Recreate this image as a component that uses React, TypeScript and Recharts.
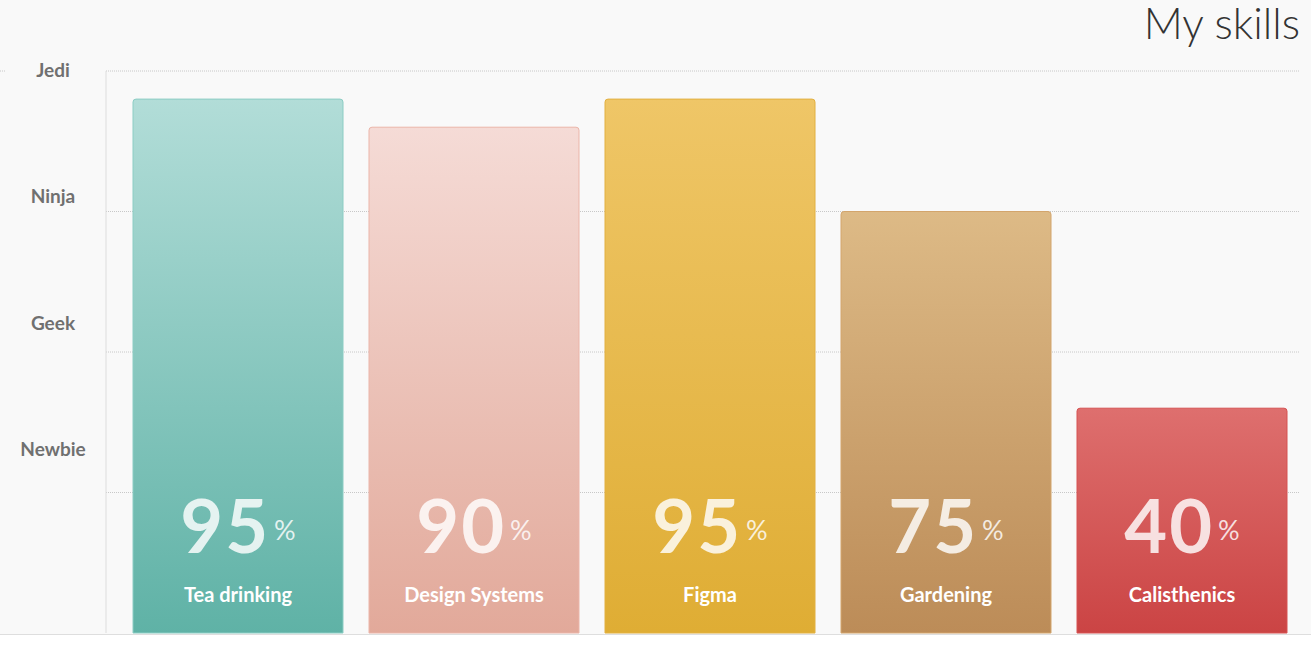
import React from 'react';
import { BarChart, Bar, XAxis, YAxis, CartesianGrid, Cell, LabelList } from 'recharts';

const skills = ['Tea drinking', 'Design Systems', 'Figma', 'Gardening', 'Calisthenics'];
const levels = [95, 90, 95, 75, 40];
const topColors = ['#b2ddd8', '#f5dbd6', '#efc667', '#ddba86', '#de6f6e'];
const bottomColors = ['#5fb2a6', '#e2a99a', '#dfad34', '#bc8c58', '#cb4444'];
const strokeColors = ['#8ccdc4', '#ebb5a9', '#e2b040', '#d3a56c', '#d65252'];
const rankTicks = [32.5, 55, 77.5, 100];
const rankLabels = ['Newbie', 'Geek', 'Ninja', 'Jedi'];
const gridValues = [25, 50, 75, 100];

const data = skills.map((name, i) => ({ name, value: levels[i] }));

const FONT = 'Lato, "Open Sans", sans-serif';

const RankTick = (props: any) => {
  const { y, payload } = props;
  const idx = rankTicks.indexOf(payload.value);
  return (
    <g>
      {payload.value === 100 && (
        <line x1={0} x2={6} y1={y} y2={y} stroke="#c8c8c8" strokeDasharray="1 1" />
      )}
      <text x={53} y={y + 6} textAnchor="middle" fontFamily={FONT} fontSize={19} fontWeight={700} fill="#707070">
        {rankLabels[idx]}
      </text>
    </g>
  );
};

const BarLabel = (props: any) => {
  const { x, y, width, height, value, index } = props;
  const cx = x + width / 2;
  const bottom = y + height;
  return (
    <g>
      <text x={cx} y={bottom - 80} textAnchor="middle" fontFamily={FONT} fill="#ffffff" fillOpacity={0.82}>
        <tspan fontSize={74} fontWeight={700} letterSpacing={2}>{value}</tspan>
        <tspan fontSize={27} fontWeight={400} dx={4} dy={-13}>%</tspan>
      </text>
      <text x={cx} y={bottom - 31} textAnchor="middle" fontFamily={FONT} fontSize={20} fontWeight={700} fill="#ffffff">
        {skills[index]}
      </text>
    </g>
  );
};

export default function App() {
  return (
    <div style={{ position: 'absolute', left: 0, top: 0, width: 1311, height: 647, background: '#ffffff', overflow: 'hidden' }}>
      <div style={{ position: 'relative', width: 1311, height: 634, background: '#f9f9f9', borderBottom: '1px solid #dedede' }}>
        <div style={{ position: 'absolute', right: 11, top: 1, fontFamily: FONT, fontSize: 43, lineHeight: '43px', fontWeight: 300, color: '#333333', zIndex: 2, whiteSpace: 'nowrap' }}>
          My skills
        </div>
        <div style={{ position: 'absolute', left: 0, top: 0 }}>
          <BarChart width={1311} height={634} data={data} margin={{ top: 71, right: 11, bottom: 1, left: 0 }} barCategoryGap={13}>
            <defs>
              {skills.map((s, i) => (
                <linearGradient key={s} id={`grad${i}`} x1="0" y1="0" x2="0" y2="1">
                  <stop offset="0%" stopColor={topColors[i]} />
                  <stop offset="100%" stopColor={bottomColors[i]} />
                </linearGradient>
              ))}
            </defs>
            <CartesianGrid vertical={false} horizontalValues={gridValues} stroke="#c8c8c8" strokeDasharray="1 1" />
            <XAxis dataKey="name" hide padding={{ left: 14, right: 0 }} />
            <YAxis
              width={106}
              domain={[0, 100]}
              ticks={rankTicks}
              interval={0}
              axisLine={{ stroke: '#dddddd' }}
              tickLine={false}
              tick={<RankTick />}
            />
            <Bar dataKey="value" isAnimationActive={false} radius={[3, 3, 0, 0]}>
              {data.map((d, i) => (
                <Cell key={d.name} fill={`url(#grad${i})`} stroke={strokeColors[i]} strokeWidth={1} />
              ))}
              <LabelList dataKey="value" content={<BarLabel />} />
            </Bar>
          </BarChart>
        </div>
      </div>
    </div>
  );
}
